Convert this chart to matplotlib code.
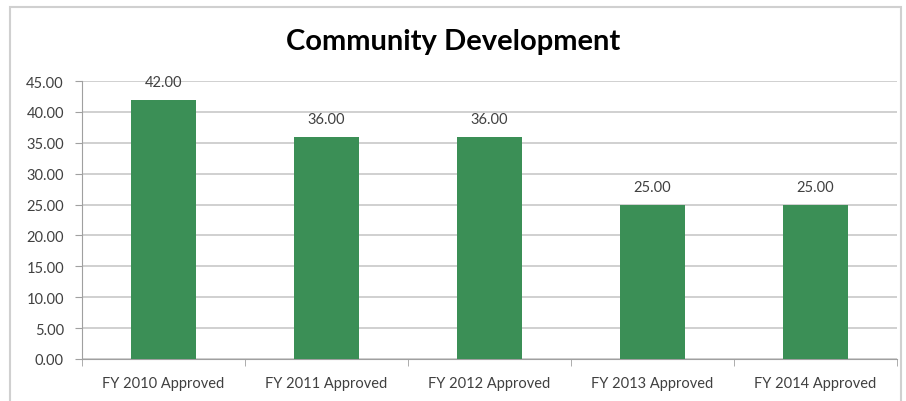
import numpy as np
import matplotlib.pyplot as plt
from matplotlib.patches import Rectangle

categories = ["FY 2010 Approved", "FY 2011 Approved", "FY 2012 Approved",
              "FY 2013 Approved", "FY 2014 Approved"]
values = [42.00, 36.00, 36.00, 25.00, 25.00]
y_ticks = [0, 5, 10, 15, 20, 25, 30, 35, 40, 45]

plt.rcParams['font.family'] = ['Lato', 'DejaVu Sans']

fig = plt.figure(figsize=(9.06, 4.02), dpi=100)
ax = fig.add_axes([0.0905, 0.1045, 0.8995, 0.6915])

# chart border
fig.patches.append(Rectangle((0.011, -0.05), 0.984, 1.03, transform=fig.transFigure,
                             fill=False, edgecolor="#d0d0d0", linewidth=1.5))

x = np.arange(len(categories))
bars = ax.bar(x, values, width=0.4, color="#3b8f56", zorder=3)
for b, v in zip(bars, values):
    ax.text(b.get_x() + b.get_width() / 2, v + 1.7, f"{v:.2f}", ha="center", va="bottom",
            fontsize=10.5, color="#404040", zorder=4)

ax.set_xlim(-0.5, len(categories) - 0.5)
ax.set_ylim(0, 45)
ax.set_yticks(y_ticks)
ax.set_yticklabels([f"{t:.2f}" for t in y_ticks], fontsize=10.5, color="#404040")
ax.set_xticks(x)
ax.set_xticklabels(categories, fontsize=10.5, color="#404040")
ax.tick_params(axis="x", length=0, pad=12)
ax.tick_params(axis="y", length=5, color="#a0a0a0", pad=8)
ax.set_xticks(np.arange(-0.5, len(categories)), minor=True)
ax.tick_params(axis="x", which="minor", length=5, color="#a0a0a0")

ax.grid(axis="y", color="#c8c8c8", linewidth=1.2, zorder=0)
for s in ["top", "right"]:
    ax.spines[s].set_visible(False)
ax.spines["left"].set_color("#a0a0a0")
ax.spines["bottom"].set_color("#a0a0a0")

fig.text(0.5, 0.895, "Community Development", ha="center", va="center",
         fontsize=21, fontweight="bold", color="black")

fig.savefig("out.png", dpi=100)
